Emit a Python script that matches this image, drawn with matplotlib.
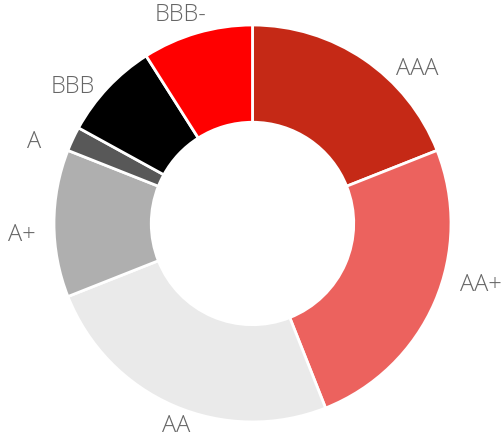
"""Donut chart of rating distribution (AAA ... BBB-)."""
import matplotlib
matplotlib.use("Agg")
import matplotlib.pyplot as plt

RATINGS = ["AAA", "AA+", "AA", "A+", "A", "BBB", "BBB-"]
SHARES = [19, 25, 25, 12, 2, 8, 9]
COLORS = ["#c52916", "#ec625e", "#eaeaea", "#afafaf", "#585858", "#000000", "#ff0000"]

# label centres, in units of the outer radius
LABEL_XY = {
    "AAA": (0.83, 0.78),
    "AA+": (1.15, -0.31),
    "AA": (-0.385, -1.018),
    "A+": (-1.163, -0.057),
    "A": (-1.10, 0.411),
    "BBB": (-0.907, 0.689),
    "BBB-": (-0.36, 1.049),
}


def main() -> None:
    fig = plt.figure(figsize=(5.04, 4.42), dpi=100)
    ax = fig.add_axes([0, 0, 1, 1])

    ax.pie(SHARES, colors=COLORS, startangle=90, counterclock=False, radius=1.0,
           wedgeprops=dict(width=0.49, edgecolor="white", linewidth=2.0))

    for name in RATINGS:
        x, y = LABEL_XY[name]
        ax.text(x, y, name, ha="center", va="center", fontsize=17,
                color="#666666", family=["Open Sans", "DejaVu Sans"], fontweight=300)

    ax.set_xlim(-1.272, 1.267)
    ax.set_ylim(-1.101, 1.126)
    ax.set_aspect("auto")
    ax.axis("off")

    fig.savefig("out.png", dpi=100)
    plt.close(fig)


if __name__ == "__main__":
    main()
